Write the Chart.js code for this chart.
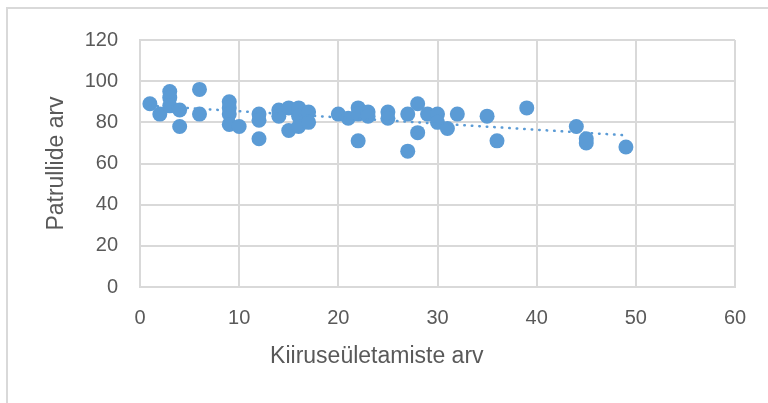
<!DOCTYPE html>
<html>
<head>
<meta charset="utf-8">
<script src="https://cdn.jsdelivr.net/npm/chart.js@4"></script>
<style>
  html, body { margin: 0; padding: 0; background: #ffffff; }
  #wrap { width: 768px; height: 403px; position: relative; }
</style>
</head>
<body>
<div id="wrap"><canvas id="c" width="768" height="403"></canvas></div>
<script>
// Data
const xValues = [1, 2, 3, 3, 3, 4, 4, 6, 6, 9, 9, 9, 9, 10, 12, 12, 12, 14, 14, 15, 15, 16, 16, 16, 17, 17,
                 20, 21, 22, 22, 22, 23, 23, 25, 25, 27, 27, 28, 28, 29, 30, 30, 31, 32, 35, 36, 39, 44, 45, 45, 49];
const yValues = [89, 84, 95, 92, 88, 86, 78, 96, 84, 90, 87, 84, 79, 78, 84, 81, 72, 86, 83, 87, 76, 87, 83, 78, 85, 80,
                 84, 82, 87, 84, 71, 85, 83, 85, 82, 84, 66, 89, 75, 84, 84, 80, 77, 84, 83, 71, 87, 78, 72, 70, 68];
// Linear trendline end points
const trendX = [1, 49];
const trendY = [88.1, 73.7];
const xTicks = [0, 10, 20, 30, 40, 50, 60];
const yTicks = [0, 20, 40, 60, 80, 100, 120];
const xTitle = 'Kiiruseületamiste arv';
const yTitle = 'Patrullide arv';

const BLUE = '#5B9BD5';
const GRID = '#D9D9D9';
const TEXT = '#595959';
const FONT = "'Liberation Sans', 'DejaVu Sans', sans-serif";

const points = xValues.map((x, i) => ({ x: x, y: yValues[i] }));
const trend = trendX.map((x, i) => ({ x: x, y: trendY[i] }));

const framePlugin = {
  id: 'frame',
  beforeDraw(chart) {
    const ctx = chart.ctx;
    ctx.save();
    ctx.fillStyle = '#ffffff';
    ctx.fillRect(0, 0, chart.width, chart.height);
    ctx.strokeStyle = GRID;
    ctx.lineWidth = 2;
    ctx.strokeRect(7, 8, 1000, 1000);
    ctx.restore();
  }
};

const xTitlePlugin = {
  id: 'xTitle',
  afterDraw(chart) {
    const ctx = chart.ctx;
    const a = chart.chartArea;
    ctx.save();
    ctx.font = "23px " + FONT;
    ctx.fillStyle = TEXT;
    ctx.textAlign = 'center';
    ctx.textBaseline = 'middle';
    ctx.fillText(xTitle, a.left + (a.right - a.left) * 0.398, 357);
    ctx.restore();
  }
};

new Chart(document.getElementById('c'), {
  type: 'scatter',
  data: {
    datasets: [
      {
        label: 'Patrullid',
        data: points,
        backgroundColor: BLUE,
        borderColor: BLUE,
        pointRadius: 7.5,
        pointHoverRadius: 7.5,
        pointBorderWidth: 0,
        order: 2
      },
      {
        label: 'Trend',
        type: 'line',
        data: trend,
        borderColor: BLUE,
        borderWidth: 2.5,
        borderDash: [0.5, 7],
        borderCapStyle: 'round',
        pointRadius: 0,
        fill: false,
        order: 1
      }
    ]
  },
  options: {
    responsive: false,
    animation: false,
    devicePixelRatio: 1,
    layout: { padding: { top: 40, right: 33, bottom: 0, left: 0 } },
    plugins: {
      legend: { display: false },
      tooltip: { enabled: false }
    },
    scales: {
      x: {
        type: 'linear',
        min: xTicks[0],
        max: xTicks[xTicks.length - 1],
        afterBuildTicks(scale) { scale.ticks = xTicks.map(v => ({ value: v })); },
        afterFit(scale) { scale.height = 116; },
        ticks: { color: TEXT, font: { size: 20, family: FONT }, padding: 19, maxRotation: 0 },
        grid: { color: GRID, lineWidth: 2, drawTicks: false },
        border: { color: GRID, width: 2 }
      },
      y: {
        type: 'linear',
        min: yTicks[0],
        max: yTicks[yTicks.length - 1],
        afterBuildTicks(scale) { scale.ticks = yTicks.map(v => ({ value: v })); },
        afterFit(scale) { scale.width = 140; },
        ticks: { color: TEXT, font: { size: 20, family: FONT }, padding: 22 },
        grid: { color: GRID, lineWidth: 2, drawTicks: false },
        border: { color: GRID, width: 2 },
        title: {
          display: true,
          text: yTitle,
          color: TEXT,
          font: { size: 23, family: FONT },
          padding: { top: 43, bottom: 0 }
        }
      }
    }
  },
  plugins: [framePlugin, xTitlePlugin]
});
</script>
</body>
</html>
